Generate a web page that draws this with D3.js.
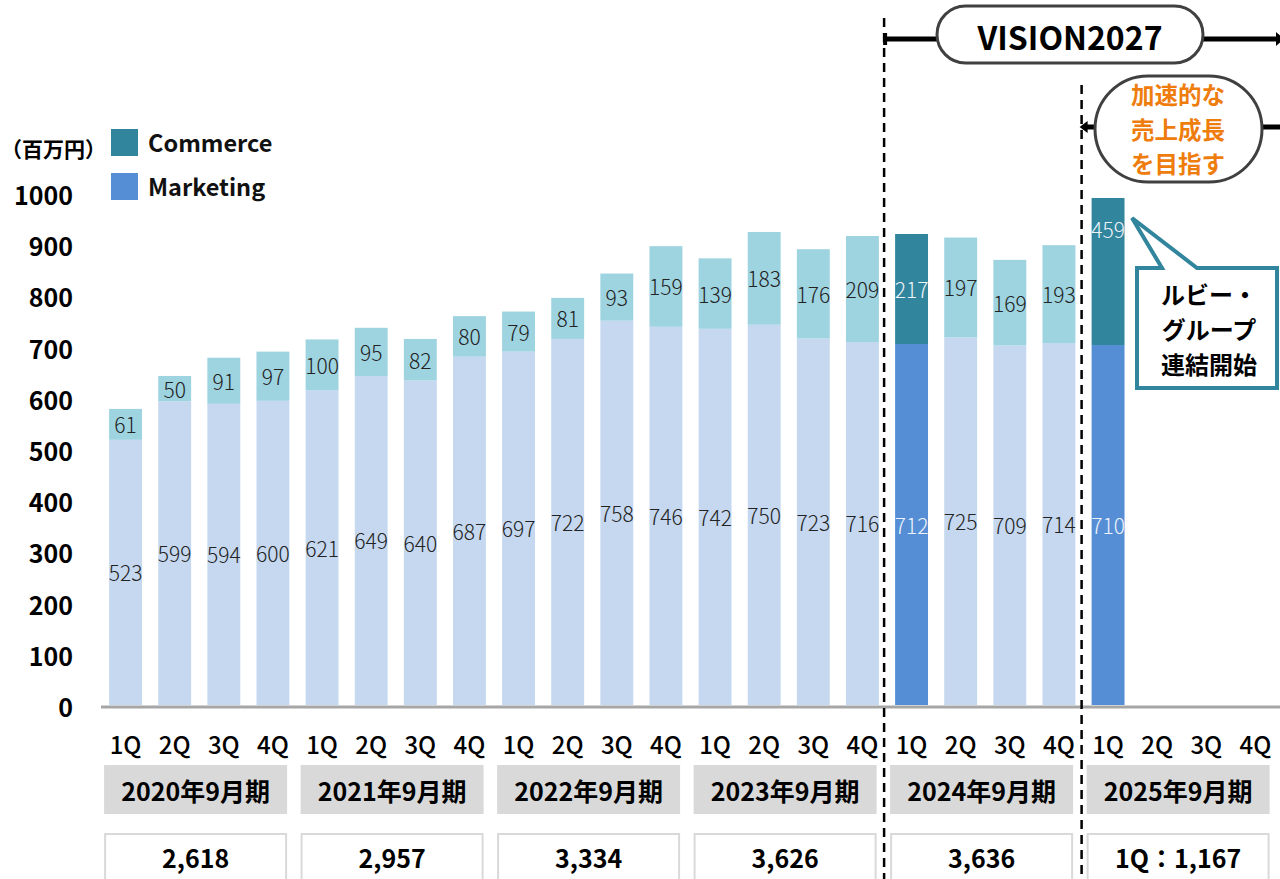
<!DOCTYPE html>
<html lang="ja">
<head>
<meta charset="utf-8">
<script src="https://cdn.jsdelivr.net/npm/d3@7/dist/d3.min.js"></script>
<style>
  html, body { margin: 0; padding: 0; background: #fff; }
  svg { display: block; font-family: "Noto Sans CJK JP", "Noto Sans", sans-serif; }
</style>
</head>
<body>
<svg id="chart" width="1280" height="879"></svg>
<script>
// Quarterly sales (百万円), fiscal years ending September
const fiscalYears = ["2020年9月期", "2021年9月期", "2022年9月期", "2023年9月期", "2024年9月期", "2025年9月期"];
const quarters = ["1Q", "2Q", "3Q", "4Q"];
const marketing = [
  523, 599, 594, 600,
  621, 649, 640, 687,
  697, 722, 758, 746,
  742, 750, 723, 716,
  712, 725, 709, 714,
  710, null, null, null
];
const commerce = [
  61, 50, 91, 97,
  100, 95, 82, 80,
  79, 81, 93, 159,
  139, 183, 176, 209,
  217, 197, 169, 193,
  459, null, null, null
];
const yearTotals = ["2,618", "2,957", "3,334", "3,626", "3,636", "1Q：1,167"];
const highlighted = [16, 20];       // quarters drawn in the strong colours
const yTicks = [0, 100, 200, 300, 400, 500, 600, 700, 800, 900, 1000];

const colors = {
  marketingLight: "#C5D8EF",
  commerceLight: "#9ED3E0",
  marketingDark: "#558ED5",
  commerceDark: "#31859C"
};

const svg = d3.select("#chart");
const idx = d3.range(marketing.length);

const x = d3.scaleBand().domain(idx).range([101, 1280]).paddingInner(0.33).paddingOuter(0.165);
const y = d3.scaleLinear().domain([0, 1000]).range([705, 198]);
const yc = y.copy().clamp(true);
const bw = x.bandwidth();

// y-axis tick labels
svg.append("g").selectAll("text").data(yTicks).join("text")
  .attr("x", 73).attr("y", d => y(d) + 1 - d * 0.005)
  .attr("text-anchor", "end").attr("dominant-baseline", "central")
  .attr("font-size", 25).attr("font-weight", 700).attr("fill", "#000")
  .text(d => d);

svg.append("text").attr("x", 1).attr("y", 148)
  .attr("dominant-baseline", "central")
  .attr("font-size", 21).attr("font-weight", 700).attr("fill", "#000")
  .text("（百万円）");

// legend
const legend = [
  { name: "Commerce", color: colors.commerceDark, y: 142 },
  { name: "Marketing", color: colors.marketingDark, y: 186 }
];
const lg = svg.append("g").selectAll("g").data(legend).join("g");
lg.append("rect").attr("x", 111).attr("y", d => d.y - 13).attr("width", 27).attr("height", 27).attr("fill", d => d.color);
lg.append("text").attr("x", 148).attr("y", d => d.y)
  .attr("dominant-baseline", "central")
  .attr("font-size", 23.5).attr("font-weight", 700).attr("fill", "#111")
  .text(d => d.name);

// stacked bars
const bars = idx.filter(i => marketing[i] != null).map(i => ({
  i, m: marketing[i], c: commerce[i], hi: highlighted.includes(i)
}));

const bg = svg.append("g");
bg.selectAll("rect.m").data(bars).join("rect").attr("class", "m")
  .attr("x", d => x(d.i)).attr("width", bw)
  .attr("y", d => yc(d.m)).attr("height", d => yc(0) - yc(d.m))
  .attr("fill", d => d.hi ? colors.marketingDark : colors.marketingLight);
bg.selectAll("rect.c").data(bars).join("rect").attr("class", "c")
  .attr("x", d => x(d.i)).attr("width", bw)
  .attr("y", d => yc(d.m + d.c)).attr("height", d => yc(d.m) - yc(d.m + d.c))
  .attr("fill", d => d.hi ? colors.commerceDark : colors.commerceLight);

// value labels centred in each segment
const lblStyle = sel => sel
  .attr("text-anchor", "middle").attr("dominant-baseline", "central")
  .attr("font-size", 21).attr("font-weight", 300)
  .attr("fill", d => d.hi ? "#EEF3FA" : "#222");
bg.selectAll("text.m").data(bars).join("text").attr("class", "m")
  .attr("x", d => x(d.i) + bw / 2).attr("y", d => (y(0) + y(d.m)) / 2)
  .call(lblStyle).text(d => d.m);
bg.selectAll("text.c").data(bars).join("text").attr("class", "c")
  .attr("x", d => x(d.i) + bw / 2).attr("y", d => (y(d.m) + y(d.m + d.c)) / 2)
  .call(lblStyle).text(d => d.c);

// baseline
svg.append("line").attr("x1", 101).attr("x2", 1280).attr("y1", y(0) + 2).attr("y2", y(0) + 2)
  .attr("stroke", "#A6A6A6").attr("stroke-width", 3);

// quarter labels
svg.append("g").selectAll("text").data(idx).join("text")
  .attr("x", i => x(i) + bw / 2).attr("y", 743)
  .attr("text-anchor", "middle").attr("dominant-baseline", "central")
  .attr("font-size", 24).attr("font-weight", 500).attr("fill", "#000")
  .text(i => quarters[i % 4]);

// fiscal year boxes and totals
const yearG = svg.append("g").selectAll("g").data(fiscalYears).join("g");
yearG.append("rect")
  .attr("x", (d, k) => x(k * 4) - 5).attr("y", 765).attr("width", 183).attr("height", 49)
  .attr("fill", "#D9D9D9");
yearG.append("text")
  .attr("x", (d, k) => x(k * 4) - 5 + 91.5).attr("y", 790)
  .attr("text-anchor", "middle").attr("dominant-baseline", "central")
  .attr("font-size", 25).attr("font-weight", 700).attr("fill", "#000")
  .text(d => d);
yearG.append("rect")
  .attr("x", (d, k) => x(k * 4) - 4).attr("y", 834).attr("width", 181).attr("height", 60)
  .attr("fill", "#fff").attr("stroke", "#D9D9D9").attr("stroke-width", 2);
yearG.append("text")
  .attr("x", (d, k) => x(k * 4) - 5 + 91.5).attr("y", 857)
  .attr("text-anchor", "middle").attr("dominant-baseline", "central")
  .attr("font-size", 25).attr("font-weight", 700).attr("fill", "#000")
  .text((d, k) => yearTotals[k]);

// period dividers
const divX1 = x(16) - 11, divX2 = x(20) - 10;
svg.append("line").attr("x1", divX1).attr("x2", divX1).attr("y1", 18).attr("y2", 879)
  .attr("stroke", "#000").attr("stroke-width", 2.5).attr("stroke-dasharray", "9,6");
svg.append("line").attr("x1", divX2).attr("x2", divX2).attr("y1", 85).attr("y2", 879)
  .attr("stroke", "#000").attr("stroke-width", 2.5).attr("stroke-dasharray", "9,6");

// multi-line text block drawn as one text element
function block(lines, cx, firstY, lineH, size, color) {
  const t = svg.append("text")
    .attr("text-anchor", "middle")
    .attr("font-size", size).attr("font-weight", 700).attr("fill", color);
  t.selectAll("tspan").data(lines).join("tspan")
    .attr("x", cx).attr("y", (d, k) => firstY + k * lineH + size * 0.36)
    .text(d => d);
}

// VISION2027 span
svg.append("line").attr("x1", divX1).attr("x2", 1280).attr("y1", 39).attr("y2", 39)
  .attr("stroke", "#000").attr("stroke-width", 5);
svg.append("path").attr("d", `M${divX1 - 1},33 L${divX1 + 3},33 L${divX1 + 3},45 L${divX1 - 1},45 Z`).attr("fill", "#000");
svg.append("path").attr("d", "M1276,32 L1284,39 L1276,46 Z").attr("fill", "#000");
svg.append("rect").attr("x", 937).attr("y", 6).attr("width", 266).attr("height", 57).attr("rx", 28.5)
  .attr("fill", "#fff").attr("stroke", "#404040").attr("stroke-width", 3);
svg.append("text").attr("x", 1070).attr("y", 36)
  .attr("text-anchor", "middle").attr("dominant-baseline", "central")
  .attr("font-size", 32).attr("font-weight", 700).attr("fill", "#000")
  .text("VISION2027");

// accelerated growth span
svg.append("line").attr("x1", divX2 + 2).attr("x2", 1280).attr("y1", 127).attr("y2", 127)
  .attr("stroke", "#000").attr("stroke-width", 5);
svg.append("path").attr("d", `M${divX2 - 2},127 L${divX2 + 6},121 L${divX2 + 6},133 Z`).attr("fill", "#000");
svg.append("rect").attr("x", 1095).attr("y", 76).attr("width", 167).attr("height", 106).attr("rx", 53).attr("ry", 53)
  .attr("fill", "#fff").attr("stroke", "#404040").attr("stroke-width", 3);
block(["加速的な", "売上成長", "を目指す"], 1178, 96, 34.2, 23.5, "#EE7D0E");

// callout
svg.append("path")
  .attr("d", "M1137,268 L1162,268 L1132,218 L1197,268 L1277,268 L1277,388 L1137,388 Z")
  .attr("fill", "#fff").attr("stroke", colors.commerceDark).attr("stroke-width", 4)
  .attr("stroke-linejoin", "miter");
block(["ルビー・", "グループ", "連結開始"], 1209, 295, 35, 24, "#000");
</script>
</body>
</html>
